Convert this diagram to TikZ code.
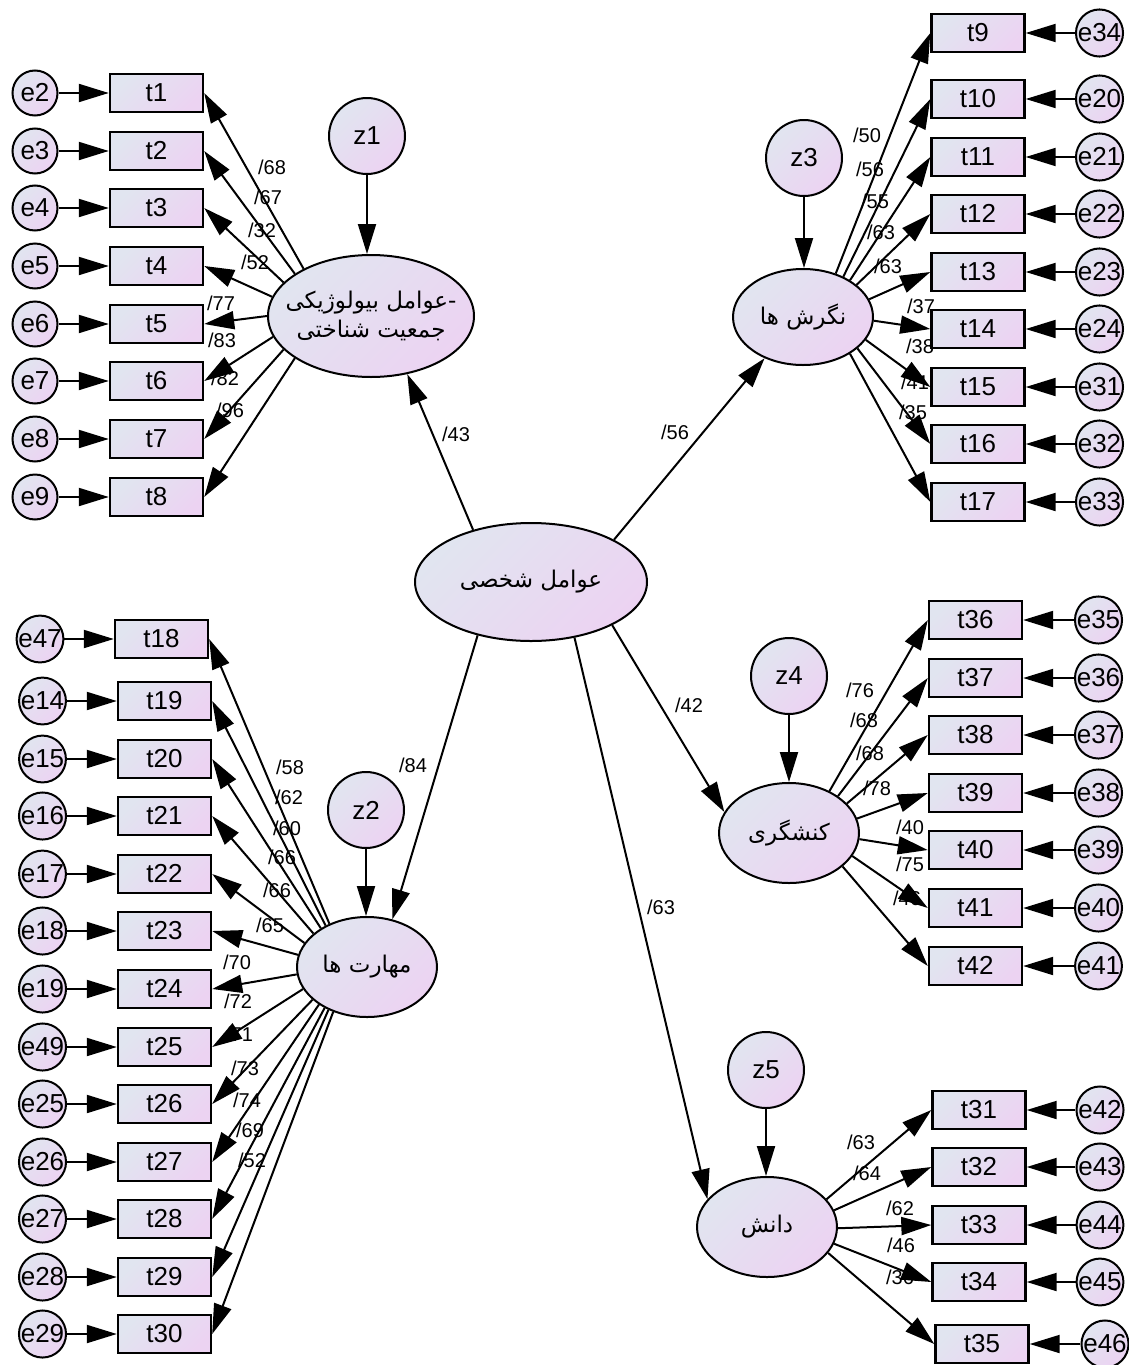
\documentclass[tikz,border=0pt]{standalone}
\usepackage{fontspec}
\setmainfont{Liberation Sans}
\newfontfamily\fa[Script=Arabic]{DejaVu Sans}
\TeXXeTstate=1
\usetikzlibrary{arrows.meta,shapes.geometric}
\definecolor{cA}{RGB}{225,229,240}
\definecolor{cB}{RGB}{236,211,242}
\tikzset{
  grad/.style={left color=cA, right color=cB, shading angle=45},
  obs/.style={rectangle, draw, line width=2.4pt, grad, minimum width=93pt, minimum height=38pt, inner sep=0pt, font=\fontsize{26}{26}\selectfont},
  err/.style={circle, draw, line width=2pt, grad, minimum size=45pt, inner sep=0pt, font=\fontsize{26}{26}\selectfont},
  dist/.style={circle, draw, line width=2pt, grad, minimum size=76pt, inner sep=0pt, font=\fontsize{26}{26}\selectfont},
  lat/.style={ellipse, draw, line width=2pt, grad, inner sep=0pt, align=center, font=\fa\fontsize{23}{29}\selectfont},
  arr/.style={-{Triangle[length=30pt,width=18pt]}, line width=2pt},
  lab/.style={inner sep=0pt, font=\fontsize{20}{20}\selectfont}
}
\begin{document}
\begin{tikzpicture}[x=1pt,y=-1pt]
\useasboundingbox (0,0) rectangle (1129,1365);
\fill[white] (0,0) rectangle (1129,1365);

% ---------- latent variables ----------
\node[lat, minimum width=206pt, minimum height=122pt] (bio) at (371,316) {\makebox[120pt]{\beginR -\kern0pt عوامل بیولوژیکی\endR}\\\makebox[120pt]{\beginR جمعیت شناختی\endR}};
\node[lat, minimum width=232pt, minimum height=118pt] (pers) at (531,582) {\beginR عوامل شخصی\endR};
\node[lat, minimum width=140pt, minimum height=96pt] (att) at (803,317) {\beginR نگرش ها\endR};
\node[lat, minimum width=140pt, minimum height=100pt] (skl) at (367,967) {\beginR مهارت ها\endR};
\node[lat, minimum width=140pt, minimum height=100pt] (kan) at (789,833) {\beginR کنشگری\endR};
\node[lat, minimum width=140pt, minimum height=100pt] (dan) at (767,1227) {\beginR دانش\endR};

% ---------- disturbances ----------
\node[dist] (z1) at (367,136) {z1};
\node[dist] (z2) at (366,810) {z2};
\node[dist] (z3) at (804,158) {z3};
\node[dist] (z4) at (789,676) {z4};
\node[dist] (z5) at (766,1070) {z5};
\draw[arr] (z1.south) -- (z1.south |- bio.north);
\draw[arr] (z2.south) -- (z2.south |- skl.north);
\draw[arr] (z3.south) -- (z3.south |- att.north);
\draw[arr] (z4.south) -- (z4.south |- kan.north);
\draw[arr] (z5.south) -- (z5.south |- dan.north);

% ---------- structural paths ----------
\node[lab] (s1) at (456,434) {/43};
\node[lab] (s2) at (675,432) {/56};
\node[lab] (s3) at (413,765) {/84};
\node[lab] (s4) at (689,705) {/42};
\node[lab] (s5) at (661,907) {/63};
\draw[arr] (pers.138) -- (bio.302);
\draw[arr] (pers.27) -- (att.227);
\draw[arr] (pers.225) -- (skl.62);
\draw[arr] (pers.332) -- (kan.162);
\draw[arr] (pers.308) -- (dan.155);

% ---------- group 1: bio ----------
\foreach \i/\e/\y in {1/2/93, 2/3/151, 3/4/208, 4/5/266, 5/6/324, 6/7/381, 7/8/439, 8/9/497}{
  \node[obs] (t\i) at (156.5,\y) {t\i};
  \node[err] (e\e) at (35,\y) {e\e};
  \draw[arr] (e\e) -- (t\i);
}
\foreach \i/\a/\v/\lx/\ly in {1/145/68/272/167, 2/151/67/268/197, 3/159/32/262/230, 4/169/52/255/262, 5/180/77/221/303, 6/192/83/222/340, 7/201/82/225/378, 8/209/96/230/410}{
  \node[lab] (lb\i) at (\lx,\ly) {/\v};
}
\foreach \i/\a in {1/145, 2/151, 3/159, 4/169, 5/180, 6/192, 7/201, 8/209}{
  \draw[arr] (bio.\a) -- (t\i.east);
}

% ---------- group 2: attitudes ----------
\foreach \i/\e/\y in {9/34/33, 10/20/99, 11/21/157, 12/22/214, 13/23/272, 14/24/329, 15/31/387, 16/32/444, 17/33/502}{
  \node[obs] (t\i) at (978,\y) {t\i};
  \node[err] (e\e) at (1099.5,\y) {e\e};
  \draw[arr] (e\e) -- (t\i);
}
\foreach \i/\v/\lx/\ly in {9/50/867/135, 10/56/870/169, 11/55/875/201, 12/63/881/232, 13/63/888/266, 14/37/921/306, 15/38/920/346, 16/41/915/382, 17/35/913/412}{
  \node[lab] (la\i) at (\lx,\ly) {/\v};
}
\foreach \i/\a in {9/53, 10/45, 11/38, 12/31, 13/15, 14/357, 15/340, 16/330, 17/322}{
  \draw[arr] (att.\a) -- (t\i.west);
}

% ---------- group 3: skills ----------
\node[obs] (t18) at (161.5,639) {t18};
\node[err] (e47) at (40,639) {e47};
\draw[arr] (e47) -- (t18);
\foreach \i/\e/\y in {19/14/701, 20/15/759, 21/16/816, 22/17/874, 23/18/931, 24/19/989, 25/49/1047, 26/25/1104, 27/26/1162, 28/27/1219, 29/28/1277, 30/29/1334}{
  \node[obs] (t\i) at (164.5,\y) {t\i};
  \node[err] (e\e) at (42.5,\y) {e\e};
  \draw[arr] (e\e) -- (t\i);
}
\foreach \i/\v/\lx/\ly in {18/58/290/767, 19/62/289/797, 20/60/287/828, 21/66/282/857, 22/66/277/890, 23/65/270/925, 24/70/237/962, 25/72/238/1001, 26/71/239/1034, 27/73/245/1068, 28/74/247/1100, 29/69/250/1130, 30/52/252/1160}{
  \node[lab] (ls\i) at (\lx,\ly) {/\v};
}
\foreach \i/\a in {18/131, 19/135, 20/140, 21/148, 22/159, 23/170, 24/186, 25/199, 26/211, 27/218, 28/224, 29/228, 30/233}{
  \draw[arr] (skl.\a) -- (t\i.east);
}

% ---------- group 4: activism ----------
\foreach \i/\e/\y in {36/35/620, 37/36/678, 38/37/735, 39/38/793, 40/39/850, 41/40/908, 42/41/966}{
  \node[obs] (t\i) at (975.5,\y) {t\i};
  \node[err] (e\e) at (1098.5,\y) {e\e};
  \draw[arr] (e\e) -- (t\i);
}
\foreach \i/\v/\lx/\ly in {36/76/860/690, 37/68/864/720, 38/68/870/753, 39/78/877/788, 40/40/910/827, 41/75/910/864, 42/46/907/898}{
  \node[lab] (lk\i) at (\lx,\ly) {/\v};
}
\foreach \i/\a in {36/46, 37/37, 38/27, 39/12, 40/355, 41/340, 42/328}{
  \draw[arr] (kan.\a) -- (t\i.west);
}

% ---------- group 5: knowledge ----------
\foreach \i/\e/\x/\ex/\y in {31/42/979/1100/1110, 32/43/979/1100/1167, 33/44/979/1100/1225, 34/45/979/1100/1282, 35/46/982/1105/1344}{
  \node[obs] (t\i) at (\x,\y) {t\i};
  \node[err] (e\e) at (\ex,\y) {e\e};
  \draw[arr] (e\e) -- (t\i);
}
\foreach \i/\v/\lx/\ly in {31/63/861/1142, 32/64/867/1173, 33/62/900/1208, 34/46/901/1245, 35/36/900/1277}{
  \node[lab] (ld\i) at (\lx,\ly) {/\v};
}
\foreach \i/\a in {31/25, 32/14, 33/359, 34/346, 35/337}{
  \draw[arr] (dan.\a) -- (t\i.west);
}
\end{tikzpicture}
\end{document}
